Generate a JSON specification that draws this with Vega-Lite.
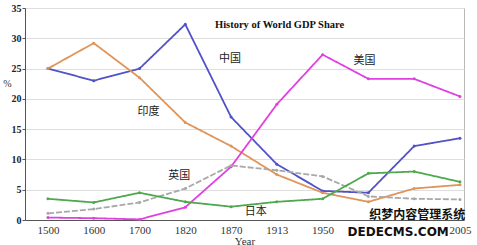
{
  "$schema": "https://vega.github.io/schema/vega-lite/v6.json",
  "width": 439,
  "height": 212,
  "autosize": "none",
  "padding": {"left": 25, "top": 8, "right": 13, "bottom": 25},
  "background": "white",
  "config": {"view": {"stroke": "#b8b8b8", "strokeWidth": 1}, "font": "Liberation Serif"},
  "title": {"text": "History of World GDP Share", "font": "Liberation Serif", "fontSize": 10.5, "fontWeight": "bold", "color": "#111", "anchor": "start", "frame": "group", "dx": 190, "offset": -27},
  "datasets": {
    "gdp": [
      {"country": "中国", "year": "1500", "value": 25},
      {"country": "中国", "year": "1600", "value": 23},
      {"country": "中国", "year": "1700", "value": 25},
      {"country": "中国", "year": "1820", "value": 32.3},
      {"country": "中国", "year": "1870", "value": 17},
      {"country": "中国", "year": "1913", "value": 9.2},
      {"country": "中国", "year": "1950", "value": 4.8},
      {"country": "中国", "year": "1973", "value": 4.5},
      {"country": "中国", "year": "2001", "value": 12.2},
      {"country": "中国", "year": "2005", "value": 13.5},
      {"country": "印度", "year": "1500", "value": 25},
      {"country": "印度", "year": "1600", "value": 29.2},
      {"country": "印度", "year": "1700", "value": 23.5},
      {"country": "印度", "year": "1820", "value": 16.1},
      {"country": "印度", "year": "1870", "value": 12.2},
      {"country": "印度", "year": "1913", "value": 7.5},
      {"country": "印度", "year": "1950", "value": 4.5},
      {"country": "印度", "year": "1973", "value": 3.0},
      {"country": "印度", "year": "2001", "value": 5.2},
      {"country": "印度", "year": "2005", "value": 5.8},
      {"country": "美国", "year": "1500", "value": 0.4},
      {"country": "美国", "year": "1600", "value": 0.3},
      {"country": "美国", "year": "1700", "value": 0.1},
      {"country": "美国", "year": "1820", "value": 2.1},
      {"country": "美国", "year": "1870", "value": 8.8},
      {"country": "美国", "year": "1913", "value": 19.1},
      {"country": "美国", "year": "1950", "value": 27.3},
      {"country": "美国", "year": "1973", "value": 23.3},
      {"country": "美国", "year": "2001", "value": 23.3},
      {"country": "美国", "year": "2005", "value": 20.4},
      {"country": "英国", "year": "1500", "value": 1.1},
      {"country": "英国", "year": "1600", "value": 1.8},
      {"country": "英国", "year": "1700", "value": 2.9},
      {"country": "英国", "year": "1820", "value": 5.2},
      {"country": "英国", "year": "1870", "value": 9.0},
      {"country": "英国", "year": "1913", "value": 8.2},
      {"country": "英国", "year": "1950", "value": 7.2},
      {"country": "英国", "year": "1973", "value": 3.9},
      {"country": "英国", "year": "2001", "value": 3.5},
      {"country": "英国", "year": "2005", "value": 3.4},
      {"country": "日本", "year": "1500", "value": 3.5},
      {"country": "日本", "year": "1600", "value": 2.9},
      {"country": "日本", "year": "1700", "value": 4.5},
      {"country": "日本", "year": "1820", "value": 3.0},
      {"country": "日本", "year": "1870", "value": 2.2},
      {"country": "日本", "year": "1913", "value": 3.0},
      {"country": "日本", "year": "1950", "value": 3.5},
      {"country": "日本", "year": "1973", "value": 7.7},
      {"country": "日本", "year": "2001", "value": 8.0},
      {"country": "日本", "year": "2005", "value": 6.3}
    ]
  },
  "data": {"name": "gdp"},
  "encoding": {
    "x": {
      "field": "year", "type": "ordinal", "sort": null,
      "scale": {"type": "point", "padding": 0.295, "align": 0.85},
      "axis": {"title": "Year", "labelAngle": 0, "ticks": false, "grid": false, "domainColor": "#555", "labelFont": "Liberation Serif", "labelFontSize": 11, "labelColor": "#333", "labelPadding": 4, "labelExpr": "datum.value == '1973' || datum.value == '2001' ? '' : datum.label", "titleFont": "Liberation Serif", "titleFontSize": 11, "titleFontWeight": "normal", "titleColor": "#333", "titlePadding": 0}
    },
    "y": {
      "field": "value", "type": "quantitative",
      "scale": {"domain": [0, 35], "nice": false},
      "axis": {"title": "%", "titleAngle": 0, "titleX": -18, "titleY": 80, "titleFont": "Liberation Serif", "titleFontSize": 10, "titleFontWeight": "normal", "titleColor": "#333", "values": [0, 5, 10, 15, 20, 25, 30, 35], "labelFont": "Liberation Serif", "labelFontWeight": "bold", "labelFontSize": 10, "labelColor": "#222", "gridColor": "#dedede", "domainColor": "#555", "tickColor": "#555", "tickSize": 3, "labelPadding": 1}
    }
  },
  "layer": [
    {
      "mark": {"type": "line", "strokeWidth": 1.8},
      "encoding": {
        "color": {"field": "country", "type": "nominal", "legend": null, "scale": {"domain": ["中国", "印度", "美国", "英国", "日本"], "range": ["#5252c8", "#e0945a", "#e040e0", "#a8a8a8", "#4fa84f"]}},
        "strokeDash": {"field": "country", "type": "nominal", "legend": null, "scale": {"domain": ["中国", "印度", "美国", "英国", "日本"], "range": [[1, 0], [1, 0], [1, 0], [6, 2], [1, 0]]}}
      }
    },
    {
      "mark": {"type": "point", "filled": true, "size": 9, "opacity": 1},
      "encoding": {
        "color": {"field": "country", "type": "nominal", "legend": null, "scale": {"domain": ["中国", "印度", "美国", "英国", "日本"], "range": ["#3030a0", "#d08040", "#c020c0", "#333333", "#3a8a3a"]}}
      }
    },
    {
      "data": {"values": [{"label": "中国", "year": "1870", "value": 26.5}]},
      "mark": {"type": "text", "font": "Noto Sans CJK SC", "fontSize": 11, "color": "#222", "dx": -1},
      "encoding": {"text": {"field": "label"}}
    },
    {
      "data": {"values": [{"label": "印度", "year": "1700", "value": 17.8}]},
      "mark": {"type": "text", "font": "Noto Sans CJK SC", "fontSize": 11, "color": "#222", "dx": 9},
      "encoding": {"text": {"field": "label"}}
    },
    {
      "data": {"values": [{"label": "美国", "year": "1973", "value": 26.3}]},
      "mark": {"type": "text", "font": "Noto Sans CJK SC", "fontSize": 11, "color": "#222", "dx": -4},
      "encoding": {"text": {"field": "label"}}
    },
    {
      "data": {"values": [{"label": "英国", "year": "1820", "value": 7.3}]},
      "mark": {"type": "text", "font": "Noto Sans CJK SC", "fontSize": 11, "color": "#222", "dx": -6},
      "encoding": {"text": {"field": "label"}}
    },
    {
      "data": {"values": [{"label": "日本", "year": "1913", "value": 1.3}]},
      "mark": {"type": "text", "font": "Noto Sans CJK SC", "fontSize": 11, "color": "#222", "dx": -21},
      "encoding": {"text": {"field": "label"}}
    },
    {
      "data": {"values": [{"label": "织梦内容管理系统", "year": "2001", "value": 0.9}]},
      "mark": {"type": "text", "font": "Noto Sans CJK SC", "fontSize": 12, "fontWeight": "bold", "color": "#111", "dx": 3},
      "encoding": {"text": {"field": "label"}}
    },
    {
      "data": {"values": [{"label": "DEDECMS.COM", "year": "2001", "value": -1.9}]},
      "mark": {"type": "text", "font": "DejaVu Sans", "fontSize": 12, "fontWeight": "bold", "color": "#111", "dx": -16},
      "encoding": {"text": {"field": "label"}}
    }
  ]
}
